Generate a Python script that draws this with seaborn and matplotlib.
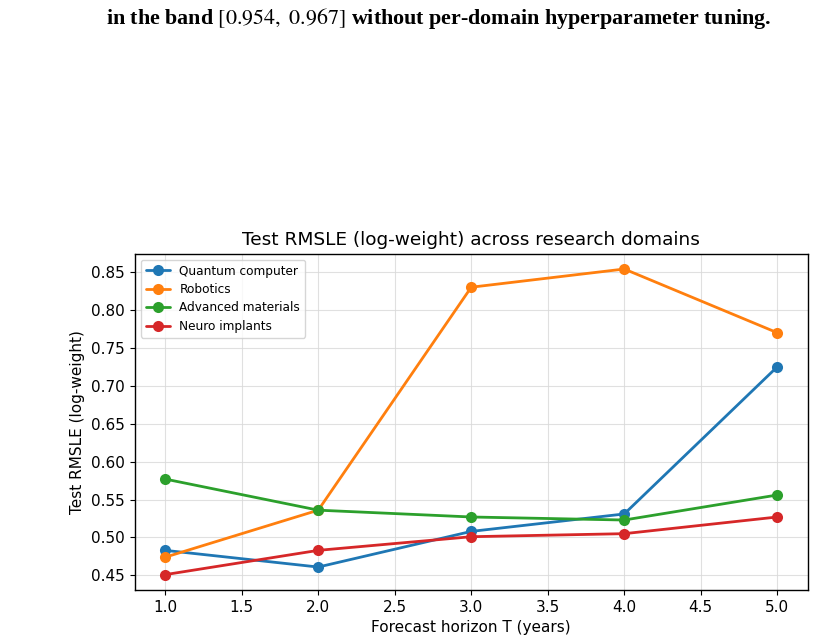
import matplotlib
matplotlib.use("Agg")
import matplotlib.pyplot as plt
import seaborn as sns
import pandas as pd

horizons = [1.0, 2.0, 3.0, 4.0, 5.0]
quantum = [0.483, 0.461, 0.508, 0.531, 0.725]
robotics = [0.474, 0.536, 0.830, 0.854, 0.770]
materials = [0.577, 0.536, 0.527, 0.523, 0.556]
neuro = [0.451, 0.483, 0.501, 0.505, 0.527]
domains = ["Quantum computer", "Robotics", "Advanced materials", "Neuro implants"]
colors = ["#1f77b4", "#ff7f0e", "#2ca02c", "#d62728"]

rows = []
for name, vals in zip(domains, [quantum, robotics, materials, neuro]):
    for h, v in zip(horizons, vals):
        rows.append({"T": h, "RMSLE": v, "Domain": name})
df = pd.DataFrame(rows)

sns.set_style("ticks", {"text.color": "black", "axes.labelcolor": "black",
                        "xtick.color": "black", "ytick.color": "black",
                        "axes.edgecolor": "black"})
plt.rcParams["font.family"] = ["DejaVu Sans"]

fig = plt.figure(figsize=(8.16, 6.44), dpi=100)
ax = fig.add_axes([0.165, 0.084, 0.825, 0.522])
sns.lineplot(data=df, x="T", y="RMSLE", hue="Domain", hue_order=domains,
             palette=colors, marker="o", markersize=8, markeredgewidth=0,
             linewidth=2, ax=ax)
ax.grid(True, color="#d9d9d9", linewidth=0.8, alpha=0.8)
for s in ax.spines.values():
    s.set_color("black")
    s.set_linewidth(1.0)
ax.set_xlim(0.8, 5.2)
ax.set_title("Test RMSLE (log-weight) across research domains", fontsize=13.3, color="black")
ax.set_xlabel("Forecast horizon T (years)", fontsize=11)
ax.set_ylabel("Test RMSLE (log-weight)", fontsize=11)
ax.tick_params(labelsize=11, colors="black")
leg = ax.legend(loc="upper left", fontsize=8.7, frameon=True, labelspacing=0.45)
leg.get_frame().set_edgecolor("#cccccc")
for t in leg.get_texts():
    t.set_color("black")

fig.text(0.537, 0.972, "in the band $[0.954,\\ 0.967]$ without per-domain hyperparameter tuning.",
         ha="center", va="center", fontsize=15.8, fontweight="bold", color="black",
         family=["Liberation Serif"], math_fontfamily="stix")

fig.savefig("out.png", dpi=100)
